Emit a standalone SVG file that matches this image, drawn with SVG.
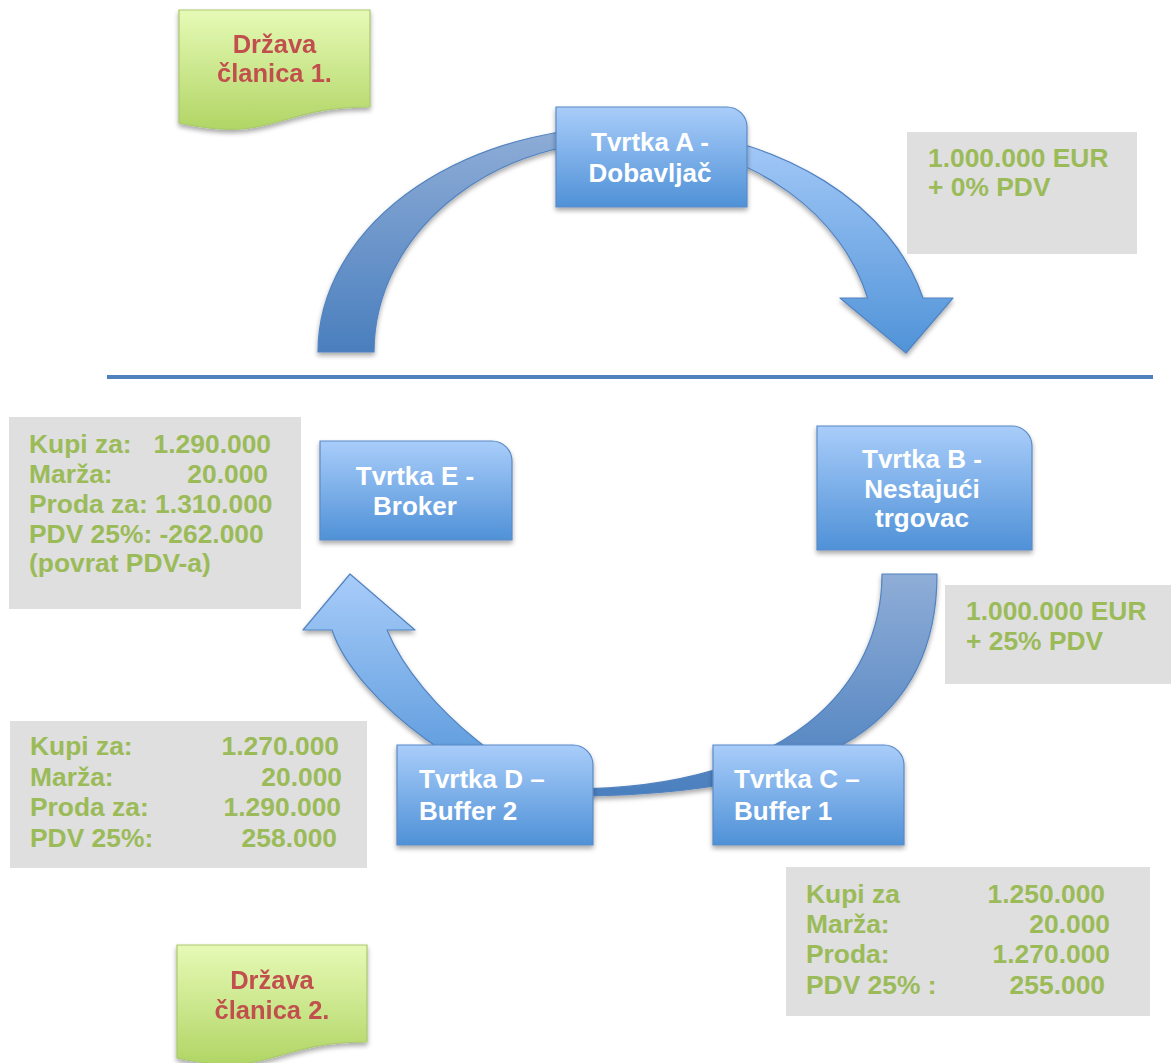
<svg xmlns="http://www.w3.org/2000/svg" width="1171" height="1063" viewBox="0 0 1171 1063">
<defs>
<style>
.node{stroke:#5a8ac6;stroke-width:1.2;fill:url(#gNode)}
.ntext{font-family:"Liberation Sans",Arial,sans-serif;font-weight:bold;font-size:26px;fill:#ffffff}
.gbox{fill:#dfdfdf}
.gtext{font-family:"Liberation Sans",Arial,sans-serif;font-weight:bold;font-size:26.4px;fill:#9bbb59}
.doc{fill:url(#gDoc);stroke:#a9c96e;stroke-width:1.2}
.dtext{font-family:"Liberation Sans",Arial,sans-serif;font-weight:bold;font-size:25.5px;fill:#c0504d}
.arrow{stroke:#5283c0;stroke-width:1.2;stroke-linejoin:round}
</style>
<linearGradient id="gNode" x1="0" y1="0" x2="0" y2="1">
<stop offset="0" stop-color="#a9cdfa"/>
<stop offset="1" stop-color="#4f91d7"/>
</linearGradient>
<linearGradient id="gDoc" x1="0" y1="0" x2="0" y2="1">
<stop offset="0" stop-color="#e6fab6"/>
<stop offset="1" stop-color="#b1d565"/>
</linearGradient>
<linearGradient id="gFront" x1="0" y1="0" x2="0" y2="1">
<stop offset="0" stop-color="#a8ccf9"/>
<stop offset="1" stop-color="#5093d8"/>
</linearGradient>
<linearGradient id="gBack" x1="0" y1="0" x2="0" y2="1">
<stop offset="0" stop-color="#8fadd7"/>
<stop offset="1" stop-color="#4a7fbe"/>
</linearGradient>
<filter id="sh" x="-15%" y="-15%" width="130%" height="140%">
<feGaussianBlur in="SourceAlpha" stdDeviation="2.5"/>
<feOffset dy="3" result="b"/>
<feComponentTransfer><feFuncA type="linear" slope="0.35"/></feComponentTransfer>
<feMerge><feMergeNode/><feMergeNode in="SourceGraphic"/></feMerge>
</filter>
</defs>
<rect width="1171" height="1063" fill="#ffffff"/>

<g id="connectors">
<g id="arrow-top" filter="url(#sh)">
<path class="arrow" fill="url(#gBack)" d="M318 352 A307 225 0 0 1 651 127.8 L651 142 A251 211 0 0 0 374 352 Z"/>
<path class="arrow" fill="url(#gFront)" d="M651 127.8 A307 225 0 0 1 923 298 L953 298 L906 353 L840 298 L867.6 298 A251 211 0 0 0 651 142 Z"/>
</g>
<g id="arrow-bottom" filter="url(#sh)">
<path class="arrow" fill="url(#gBack)" d="M937 574 C937 714 840 796 570 796 L570 789 C790 789 882 684 882 574 Z"/>
<path class="arrow" fill="url(#gFront)" d="M570 796 C480 796 355 700 332 630 L303 630 L350 574 L415 630 L387 630 C420 710 530 789 570 789 Z"/>
</g>
</g>

<line id="separator" x1="107" y1="377" x2="1153" y2="377" stroke="#4f81bd" stroke-width="4"/>

<g id="drzava-1" filter="url(#sh)">
<path class="doc" d="M179 10 H370 V107 C274.5 107 274.5 144 179 123 Z"/>
<text class="dtext" text-anchor="middle" x="274.5" y="53">Država</text>
<text class="dtext" text-anchor="middle" x="274.5" y="82">članica 1.</text>
</g>

<g id="drzava-2" filter="url(#sh)">
<path class="doc" d="M177 945 H367 V1042 C272 1042 272 1079 177 1058 Z"/>
<text class="dtext" text-anchor="middle" x="272" y="989">Država</text>
<text class="dtext" text-anchor="middle" x="272" y="1019">članica 2.</text>
</g>

<g id="tvrtka-a">
<path class="node" filter="url(#sh)" d="M556 107 H727 A20 20 0 0 1 747 127 V207 H556 Z"/>
<text class="ntext" text-anchor="middle" x="650" y="151">Tvrtka A -</text>
<text class="ntext" text-anchor="middle" x="650" y="182">Dobavljač</text>
</g>

<g id="tvrtka-b">
<path class="node" filter="url(#sh)" d="M817 426 H1012 A20 20 0 0 1 1032 446 V550 H817 Z"/>
<text class="ntext" text-anchor="middle" x="922" y="468">Tvrtka B -</text>
<text class="ntext" text-anchor="middle" x="922" y="498">Nestajući</text>
<text class="ntext" text-anchor="middle" x="922" y="527">trgovac</text>
</g>

<g id="tvrtka-e">
<path class="node" filter="url(#sh)" d="M320 441 H492 A20 20 0 0 1 512 461 V540 H320 Z"/>
<text class="ntext" text-anchor="middle" x="415" y="485">Tvrtka E -</text>
<text class="ntext" text-anchor="middle" x="415" y="515">Broker</text>
</g>

<g id="tvrtka-d">
<path class="node" filter="url(#sh)" d="M397 745 H573 A20 20 0 0 1 593 765 V845 H397 Z"/>
<text class="ntext" x="419" y="788">Tvrtka D –</text>
<text class="ntext" x="419" y="820">Buffer 2</text>
</g>

<g id="tvrtka-c">
<path class="node" filter="url(#sh)" d="M713 745 H884 A20 20 0 0 1 904 765 V845 H713 Z"/>
<text class="ntext" x="734" y="788">Tvrtka C –</text>
<text class="ntext" x="734" y="820">Buffer 1</text>
</g>

<g id="label-a-b">
<rect class="gbox" x="907" y="132" width="230" height="122"/>
<text class="gtext" x="928" y="167">1.000.000 EUR</text>
<text class="gtext" x="928" y="196">+ 0% PDV</text>
</g>

<g id="label-b-c">
<rect class="gbox" x="945" y="585" width="226" height="99"/>
<text class="gtext" x="966" y="620">1.000.000 EUR</text>
<text class="gtext" x="966" y="650">+ 25% PDV</text>
</g>

<g id="label-e">
<rect class="gbox" x="9" y="417" width="292" height="192"/>
<text class="gtext" x="29" y="453">Kupi za:</text>
<text class="gtext" x="271" y="453" text-anchor="end">1.290.000</text>
<text class="gtext" x="29" y="483">Marža:</text>
<text class="gtext" x="268" y="483" text-anchor="end">20.000</text>
<text class="gtext" x="29" y="513">Proda za: 1.310.000</text>
<text class="gtext" x="29" y="543">PDV 25%: -262.000</text>
<text class="gtext" x="29" y="572">(povrat PDV-a)</text>
</g>

<g id="label-d">
<rect class="gbox" x="10" y="721" width="357" height="147"/>
<text class="gtext" x="30" y="755">Kupi za:</text>
<text class="gtext" x="339" y="755" text-anchor="end">1.270.000</text>
<text class="gtext" x="30" y="786">Marža:</text>
<text class="gtext" x="342" y="786" text-anchor="end">20.000</text>
<text class="gtext" x="30" y="816">Proda za:</text>
<text class="gtext" x="341" y="816" text-anchor="end">1.290.000</text>
<text class="gtext" x="30" y="847">PDV 25%:</text>
<text class="gtext" x="337" y="847" text-anchor="end">258.000</text>
</g>

<g id="label-c">
<rect class="gbox" x="786" y="867" width="364" height="149"/>
<text class="gtext" x="806" y="903">Kupi za</text>
<text class="gtext" x="1105" y="903" text-anchor="end">1.250.000</text>
<text class="gtext" x="806" y="933">Marža:</text>
<text class="gtext" x="1110" y="933" text-anchor="end">20.000</text>
<text class="gtext" x="806" y="963">Proda:</text>
<text class="gtext" x="1110" y="963" text-anchor="end">1.270.000</text>
<text class="gtext" x="806" y="994">PDV 25% :</text>
<text class="gtext" x="1105" y="994" text-anchor="end">255.000</text>
</g>
</svg>
